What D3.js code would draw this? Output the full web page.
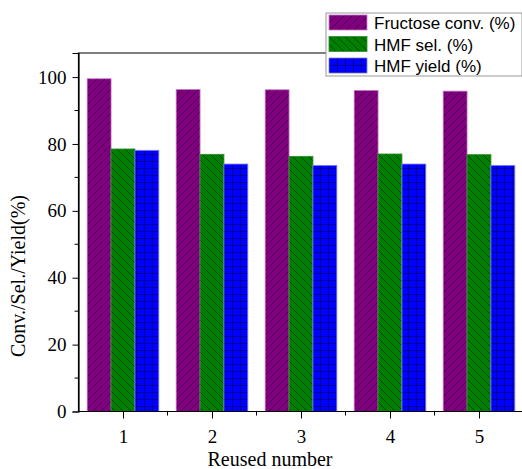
<!DOCTYPE html>
<html>
<head>
<meta charset="utf-8">
<script src="https://cdn.jsdelivr.net/npm/d3@7"></script>
<style>
  body { margin: 0; background: #fff; }
  svg { display: block; }
</style>
</head>
<body>
<div id="chart"></div>
<script>
// reuse cycles and measured percentages
const CYCLES = [1, 2, 3, 4, 5];
const FRUCTOSE_CONV = [99.5, 96.3, 96.2, 96.0, 95.8];
const HMF_SEL = [78.5, 76.9, 76.3, 77.0, 76.8];
const HMF_YIELD = [78.1, 74.0, 73.6, 74.0, 73.6];
const SERIES_NAMES = ["Fructose conv. (%)", "HMF sel. (%)", "HMF yield (%)"];
const Y_TICKS = [0, 20, 40, 60, 80, 100];

const W = 522, H = 469;
const serif = "'Liberation Serif', 'Times New Roman', serif";
const sans = "'Liberation Sans', Arial, sans-serif";

const series = [
  { name: SERIES_NAMES[0], values: FRUCTOSE_CONV, fill: "url(#patPurple)", edge: "#c27ac2" },
  { name: SERIES_NAMES[1], values: HMF_SEL,       fill: "url(#patGreen)",  edge: "#2e8b2e" },
  { name: SERIES_NAMES[2], values: HMF_YIELD,     fill: "url(#patBlue)",   edge: "#7f7fff" }
];

const svg = d3.select("#chart").append("svg")
  .attr("width", W).attr("height", H);

// ── hatch patterns ──────────────────────────────────────────────
const defs = svg.append("defs");

const pP = defs.append("pattern").attr("id", "patPurple")
  .attr("patternUnits", "userSpaceOnUse").attr("width", 8).attr("height", 8);
pP.append("rect").attr("width", 8).attr("height", 8).attr("fill", "#800080");
pP.append("path").attr("d", "M-2,2 L2,-2 M0,8 L8,0 M6,10 L10,6")
  .attr("stroke", "#3d003d").attr("stroke-width", 0.8);

const pG = defs.append("pattern").attr("id", "patGreen")
  .attr("patternUnits", "userSpaceOnUse").attr("width", 8).attr("height", 8);
pG.append("rect").attr("width", 8).attr("height", 8).attr("fill", "#008000");
pG.append("path").attr("d", "M-2,6 L2,10 M0,0 L8,8 M6,-2 L10,2")
  .attr("stroke", "#003300").attr("stroke-width", 0.8);

const pB = defs.append("pattern").attr("id", "patBlue")
  .attr("patternUnits", "userSpaceOnUse").attr("width", 8).attr("height", 7);
pB.append("rect").attr("width", 8).attr("height", 7).attr("fill", "#0000ff");
pB.append("path").attr("d", "M0,0 L8,0 M0,0 L0,7")
  .attr("stroke", "#00003a").attr("stroke-width", 1);

// ── scales ──────────────────────────────────────────────────────
const x = d3.scaleLinear().domain([0.5, 5.5]).range([78.5, 523.5]);
const y = d3.scaleLinear().domain([0, 107.2]).range([411.5, 53]);
const groupW = 0.805;
const barW = groupW / series.length;

// ── bars ────────────────────────────────────────────────────────
const barsG = svg.append("g");
series.forEach((s, si) => {
  barsG.selectAll(null)
    .data(CYCLES.map((c, i) => ({ c, v: s.values[i] })))
    .join("rect")
      .attr("x", d => x(d.c - groupW / 2 + si * barW))
      .attr("width", x(barW) - x(0))
      .attr("y", d => y(d.v))
      .attr("height", d => y(0) - y(d.v))
      .attr("fill", s.fill)
      .attr("stroke", s.edge)
      .attr("stroke-width", 0.8);
});

// ── frame and axes ──────────────────────────────────────────────
svg.append("path")
  .attr("d", `M${x(0.5)},${y(0)} L${x(0.5)},${y(107.2)} L${W + 2},${y(107.2)}`)
  .attr("fill", "none").attr("stroke", "#000").attr("stroke-width", 1.2);

const xAxis = svg.append("g").attr("transform", `translate(0,${y(0)})`)
  .call(d3.axisBottom(x).tickValues(CYCLES).tickSize(7).tickPadding(6).tickFormat(d3.format("d")));
xAxis.selectAll(".minor")
  .data(d3.range(1.5, 6, 1))
  .join("line").attr("class", "minor")
    .attr("x1", d => x(d)).attr("x2", d => x(d)).attr("y2", 4)
    .attr("stroke", "#000");
xAxis.select(".domain").attr("d", `M${x(0.5)},0 H${W + 2}`);

const yAxis = svg.append("g").attr("transform", `translate(${x(0.5)},0)`)
  .call(d3.axisLeft(y).tickValues(Y_TICKS).tickSize(6).tickPadding(6));
yAxis.selectAll(".minor")
  .data(d3.range(10, 110, 20))
  .join("line").attr("class", "minor")
    .attr("x2", -4).attr("y1", d => y(d)).attr("y2", d => y(d))
    .attr("stroke", "#000");

[xAxis, yAxis].forEach(a => {
  a.selectAll(".domain").attr("stroke-width", 1.2);
  a.selectAll("text").attr("font-family", serif).attr("font-size", 19).attr("fill", "#000");
});
xAxis.selectAll("text").attr("dy", "0.95em");

// axis titles
svg.append("text")
  .attr("transform", "translate(25,276) rotate(-90)")
  .attr("text-anchor", "middle")
  .attr("font-family", serif).attr("font-size", 20)
  .text("Conv./Sel./Yield(%)");

svg.append("text")
  .attr("x", 270).attr("y", 466)
  .attr("text-anchor", "middle")
  .attr("font-family", serif).attr("font-size", 20)
  .text("Reused number");

// ── legend ──────────────────────────────────────────────────────
const leg = svg.append("g").attr("transform", "translate(326,13)");
leg.append("rect")
  .attr("width", 196).attr("height", 63)
  .attr("fill", "#fff").attr("stroke", "#999").attr("stroke-width", 1);
series.forEach((s, i) => {
  const row = leg.append("g").attr("transform", `translate(3,${2 + i * 21.5})`);
  row.append("rect").attr("width", 38).attr("height", 15)
    .attr("fill", s.fill).attr("stroke", s.edge).attr("stroke-width", 0.8);
  row.append("text").attr("x", 45).attr("y", 14)
    .attr("font-family", sans).attr("font-size", 17)
    .text(s.name);
});
</script>
</body>
</html>
